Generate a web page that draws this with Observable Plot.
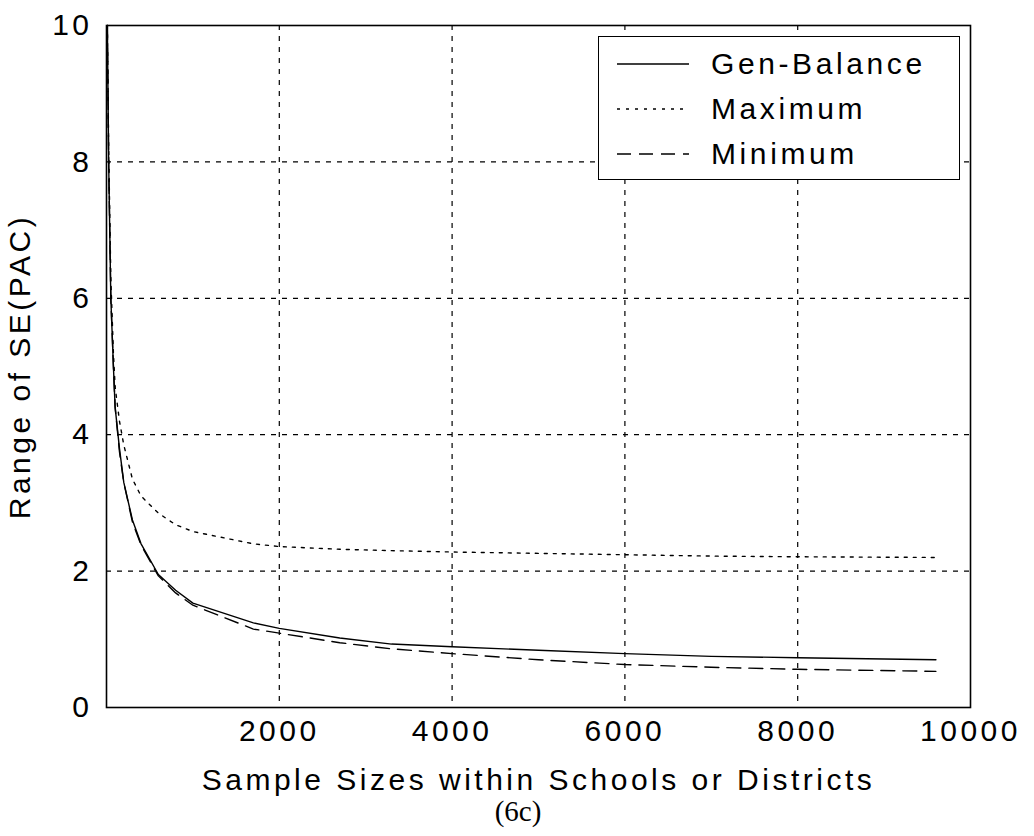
<!DOCTYPE html>
<html>
<head>
<meta charset="utf-8">
<script src="https://cdn.jsdelivr.net/npm/d3@7"></script>
<script src="https://cdn.jsdelivr.net/npm/@observablehq/plot@0.6"></script>
<style>
  body { margin: 0; background: white; }
  #wrap { position: relative; width: 1034px; height: 836px; }
  #legend { position: absolute; left: 598px; top: 36px; width: 362px; height: 144px;
    border: 1.5px solid black; background: white; box-sizing: border-box;
    font-family: "Liberation Sans", Arial, sans-serif; font-size: 30px; letter-spacing: 3.6px; }
  .row { position: absolute; left: 0; height: 40px; display: flex; align-items: center; }
  .row svg { margin-left: 18px; }
  .row span { margin-left: 22px; }
  #caption { position: absolute; left: 0; width: 1036px; top: 795px; text-align: center;
    font-family: "Liberation Serif", "Times New Roman", serif; font-size: 29px; }
</style>
</head>
<body>
<div id="wrap">
  <div id="chart"></div>
  <div id="legend"></div>
  <div id="caption">(6c)</div>
</div>
<script>
const sampleSizes = [10, 25, 50, 80, 100, 150, 200, 300, 400, 600, 800, 1000, 1700, 2000, 2700, 3300, 4000, 5000, 6000, 7000, 8000, 9600];
const genBalance  = [10, 8.0, 6.0, 5.0, 4.4, 3.8, 3.3, 2.75, 2.4, 1.95, 1.72, 1.53, 1.24, 1.16, 1.02, 0.93, 0.89, 0.84, 0.79, 0.75, 0.73, 0.70];
const maximum     = [10, 8.2, 6.3, 5.2, 4.7, 4.2, 3.85, 3.35, 3.1, 2.85, 2.68, 2.58, 2.40, 2.36, 2.32, 2.30, 2.28, 2.26, 2.24, 2.22, 2.21, 2.20];
const minimum     = [10, 8.0, 6.0, 5.0, 4.4, 3.75, 3.3, 2.72, 2.38, 1.93, 1.68, 1.50, 1.15, 1.09, 0.95, 0.86, 0.79, 0.70, 0.63, 0.59, 0.56, 0.53];
const seriesNames = ["Gen-Balance", "Maximum", "Minimum"];
const seriesDash  = ["none", "3,6", "14,8"];
const xTicks = [2000, 4000, 6000, 8000, 10000];
const yTicks = [0, 2, 4, 6, 8, 10];
const xGrid = [2000, 4000, 6000, 8000];
const yGrid = [2, 4, 6, 8];

const seriesValues = [genBalance, maximum, minimum];
const rows = [];
seriesNames.forEach((name, i) => {
  sampleSizes.forEach((n, j) => rows.push({series: name, n, v: seriesValues[i][j]}));
});

const chart = Plot.plot({
  width: 1034,
  height: 800,
  marginLeft: 106,
  marginRight: 64,
  marginTop: 25,
  marginBottom: 93,
  x: {domain: [0, 10000]},
  y: {domain: [0, 10]},
  style: {fontFamily: "Liberation Sans, Arial, sans-serif", fontSize: "30px", color: "black", background: "white", letterSpacing: "3.5px"},
  marks: [
    Plot.gridX(xGrid, {stroke: "black", strokeOpacity: 1, strokeWidth: 1.2, strokeDasharray: "5,6"}),
    Plot.gridY(yGrid, {stroke: "black", strokeOpacity: 1, strokeWidth: 1.2, strokeDasharray: "5,6"}),
    ...seriesNames.map((name, i) =>
      Plot.line(rows.filter(d => d.series === name), {
        x: "n", y: "v", stroke: "black", strokeWidth: 1.4,
        strokeDasharray: seriesDash[i] === "none" ? null : seriesDash[i]
      })
    ),
    Plot.frame({stroke: "black", strokeWidth: 1.6}),
    Plot.axisX(xTicks, {tickSize: 0, tickPadding: 12, fontSize: 30, tickFormat: d => String(d),
      label: "Sample Sizes within Schools or Districts", labelAnchor: "center", labelOffset: 82, labelArrow: false}),
    Plot.axisY(yTicks, {tickSize: 0, tickPadding: 14, fontSize: 30, tickFormat: d => String(d),
      label: "Range of SE(PAC)", labelAnchor: "center", labelOffset: 98, labelArrow: false})
  ]
});
document.getElementById("chart").appendChild(chart);

// legend
const legend = document.getElementById("legend");
seriesNames.forEach((name, i) => {
  const row = document.createElement("div");
  row.className = "row";
  row.style.top = (7 + i * 45) + "px";
  const dash = seriesDash[i] === "none" ? "" : `stroke-dasharray="${seriesDash[i]}"`;
  row.innerHTML = `<svg width="72" height="10"><line x1="0" y1="5" x2="72" y2="5" stroke="black" stroke-width="1.4" ${dash}/></svg><span>${name}</span>`;
  legend.appendChild(row);
});
</script>
</body>
</html>
